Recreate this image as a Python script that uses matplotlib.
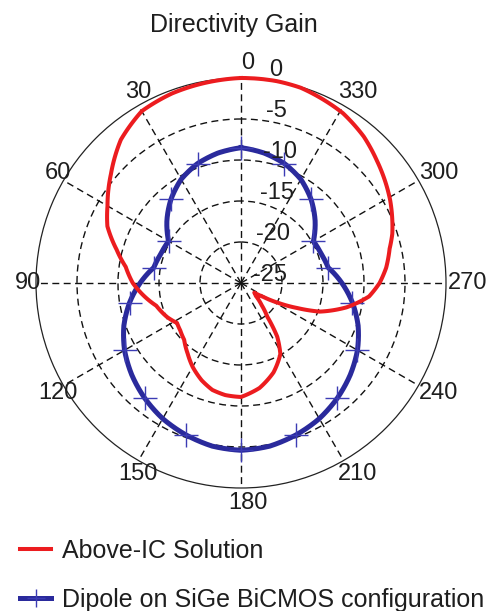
import numpy as np
import matplotlib
matplotlib.use('Agg')
import matplotlib.pyplot as plt
from matplotlib.transforms import offset_copy
from matplotlib.lines import Line2D

plt.rcParams['font.family'] = ['Liberation Sans', 'DejaVu Sans']

title = "Directivity Gain"
angle_ticks = [0, 30, 60, 90, 120, 150, 180, 210, 240, 270, 300, 330]
angle_labels = ['0', '30', '60', '90', '120', '150', '180', '210', '240', '270', '300', '330']
r_ticks = [-25, -20, -15, -10, -5, 0]
r_labels = ['-25', '-20', '-15', '-10', '-5', '0']
series_names = ["Above-IC Solution", "Dipole on SiGe BiCMOS configuration"]

# Above-IC Solution (angle in degrees, counter-clockwise from top; gain in dB)
red_angles = [0, 10, 20, 30, 40, 50, 60, 67, 75, 82, 90, 96, 105, 115, 122, 128,
              135, 143, 150, 158, 165, 172, 180, 190, 200, 209, 214, 218, 223, 229,
              234, 238, 242, 246, 250, 257, 264, 270, 276, 283, 288, 299, 312, 320,
              329, 343, 350, 360]
red_gain = [0.0, -0.2, -0.4, -0.8, -2.2, -4.3, -6.2, -7.3, -9.3, -10.8, -11.8, -12.8,
            -14.3, -15.1, -15.8, -15.6, -15.2, -14.2, -13.2, -12.2, -11.5, -11.2, -11.1,
            -12.0, -13.4, -15.1, -17.1, -19.8, -21.3, -22.6, -23.0, -21.8, -19.8, -17.5,
            -14.8, -11.8, -9.3, -8.1, -7.2, -6.4, -5.6, -4.2, -2.7, -1.7, -0.85, -0.1,
            0.0, 0.0]

# Dipole on SiGe BiCMOS configuration
blue_angles = list(range(0, 361, 10))
blue_gain = [-8.5, -8.9, -9.5, -10.4, -11.7, -13.2, -14.8, -14.6, -14.2, -12.7,
             -11.2, -9.8, -8.6, -7.6, -6.7, -5.9, -5.3, -4.8, -4.6, -4.8, -5.3,
             -5.9, -6.7, -7.6, -8.6, -9.8, -11.2, -12.7, -14.2, -14.6, -14.8, -13.2,
             -11.7, -10.4, -9.5, -8.9, -8.5]

red = '#ec1c1f'
blue = '#2a2a9c'
mblue = '#3c3cb4'
txt = '#1e1e1e'

fig = plt.figure(figsize=(4.97, 6.11), dpi=100)
ax = fig.add_axes([36 / 497, 123 / 611, 410 / 497, 410 / 611], projection='polar')
ax.set_theta_zero_location('N')
ax.set_theta_direction(1)
ax.set_rlim(r_ticks[0], r_ticks[-1])
ax.set_thetagrids(angle_ticks, labels=[''] * len(angle_ticks))
ax.set_rgrids(r_ticks[1:-1], labels=[''] * (len(r_ticks) - 2))
ax.grid(True, color='#111111', linestyle=(0, (5.0, 3.2)), linewidth=1.0)
ax.tick_params(length=0)
ax.spines['polar'].set_linewidth(0.9)
ax.spines['polar'].set_color('#222222')

bth = np.deg2rad(blue_angles)
bl, = ax.plot(bth, blue_gain, color=blue, lw=3.6, clip_on=False, zorder=3)
ax.plot(bth[:-1:2], blue_gain[:-1:2], linestyle='none', marker='+', ms=17, mew=1.0,
        mec=mblue, clip_on=False, zorder=3)
rl, = ax.plot(np.deg2rad(red_angles), red_gain, color=red, lw=2.9, clip_on=False, zorder=4)
for ln in (bl, rl):
    ln.get_path()._interpolation_steps = 30

# angle labels
for a, lab in zip(angle_ticks, angle_labels):
    ax.text(np.deg2rad(a), r_ticks[-1] + 1.83, lab,
            transform=offset_copy(ax.transData, fig, x=7, y=0, units='dots'),
            ha='center', va='center', fontsize=17, color=txt, clip_on=False)

# radial labels
pxr = 205.0 / (r_ticks[-1] - r_ticks[0])
for v, lab in zip(r_ticks, r_labels):
    ax.text(0, v, lab,
            transform=offset_copy(ax.transData, fig, x=12 + (v - r_ticks[0]) * pxr * 0.08,
                                  y=8, units='dots'),
            ha='left', va='center', fontsize=17, color=txt, clip_on=False, zorder=5)

fig.text(234 / 497, 1 - 25 / 611, title, ha='center', va='center', fontsize=18, color=txt)

h_red = Line2D([], [], color=red, lw=2.9)
h_blue = Line2D([], [], color=blue, lw=3.6, marker='+', ms=13, mew=1.0, mec=mblue)
fig.legend(handles=[h_red, h_blue], labels=series_names, loc='upper left',
           bbox_to_anchor=(20 / 497, 1 - 539 / 611), frameon=False, fontsize=18,
           handlelength=1.25, handletextpad=0.45, labelspacing=0.98, borderpad=0,
           borderaxespad=0, labelcolor=txt)

fig.savefig('out.png', dpi=100)
